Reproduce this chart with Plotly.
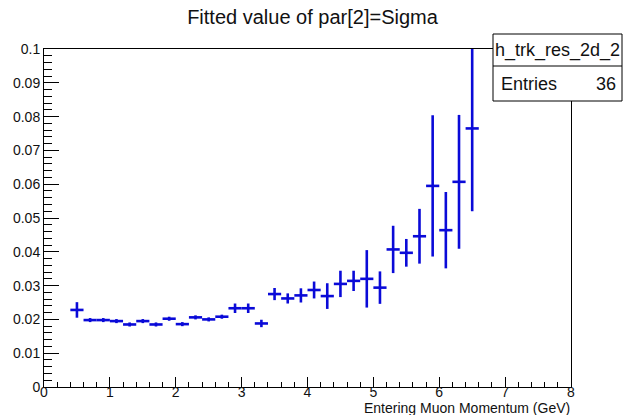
import plotly.graph_objects as go

# Fitted Gaussian sigma per momentum bin
momentum_gev = [0.5, 0.7, 0.9, 1.1, 1.3, 1.5, 1.7, 1.9, 2.1, 2.3, 2.5, 2.7, 2.9, 3.1,
                3.3, 3.5, 3.7, 3.9, 4.1, 4.3, 4.5, 4.7, 4.9, 5.1, 5.3, 5.5, 5.7, 5.9,
                6.1, 6.3, 6.5]
sigma = [0.0228, 0.0198, 0.0198, 0.0195, 0.0185, 0.0195, 0.0185, 0.0202, 0.0186,
         0.0206, 0.0200, 0.0208, 0.0233, 0.0233, 0.0188, 0.0275, 0.0262, 0.0271,
         0.0287, 0.0269, 0.0305, 0.0314, 0.0320, 0.0294, 0.0407, 0.0397, 0.0446,
         0.0595, 0.0464, 0.0607, 0.0765]
sigma_err = [0.0023, 0.0006, 0.0006, 0.0006, 0.0006, 0.0006, 0.0006, 0.0006, 0.0006,
             0.0006, 0.0006, 0.0006, 0.0014, 0.0014, 0.0011, 0.0018, 0.0015, 0.0021,
             0.0025, 0.0038, 0.0039, 0.0030, 0.0085, 0.0048, 0.0070, 0.0041, 0.0081,
             0.0209, 0.0113, 0.0198, 0.0245]
bin_half_width = 0.1

title_text = "Fitted value of par[2]=Sigma"
x_title = "Entering Muon Momentum (GeV)"
hist_name = "h_trk_res_2d_2"
entries = 36

W, H = 625, 415
ML, MR, MT, MB = 44, 54, 49, 28
PW, PH = W - ML - MR, H - MT - MB
FONT = "Liberation Sans, Arial, Helvetica, sans-serif"
BLUE = "#0a0ad8"


def px(x):
    return (x - ML) / PW


def py(y):
    return (H - MB - y) / PH


fig = go.Figure()
fig.add_trace(go.Scatter(
    x=momentum_gev, y=sigma, mode="markers",
    marker=dict(size=0.1, color=BLUE),
    error_x=dict(type="constant", value=bin_half_width, color=BLUE, thickness=2.6, width=0),
    error_y=dict(type="data", array=sigma_err, color=BLUE, thickness=2.6, width=0),
    showlegend=False, hoverinfo="skip",
))

axis_common = dict(showgrid=False, zeroline=False, showline=True, linecolor="black",
                   linewidth=1, mirror=True, ticks="inside", tickcolor="black",
                   tickwidth=1, automargin=False,
                   tickfont=dict(family=FONT, size=14, color="#111"))

fig.update_xaxes(range=[0, 8], dtick=1, ticklen=10, ticklabelstandoff=-8,
                 minor=dict(ticks="inside", dtick=0.2, ticklen=5, tickcolor="black"),
                 **axis_common)
fig.update_yaxes(range=[0, 0.1], dtick=0.01, ticklen=15,
                 minor=dict(ticks="inside", dtick=0.002, ticklen=8, tickcolor="black"),
                 **axis_common)

# Statistics box
box_l, box_r, box_t, box_mid, box_b = 493, 622, 34, 66, 101
fig.add_shape(type="rect", xref="paper", yref="paper",
              x0=px(box_l), x1=px(box_r), y0=py(box_b), y1=py(box_t),
              fillcolor="white", line=dict(color="black", width=1), layer="above")
fig.add_shape(type="line", xref="paper", yref="paper",
              x0=px(box_l), x1=px(box_r), y0=py(box_mid), y1=py(box_mid),
              line=dict(color="black", width=1), layer="above")

annos = [
    dict(text=hist_name, x=px((box_l + box_r) / 2), y=py((box_t + box_mid) / 2),
         xanchor="center", yanchor="middle", font=dict(size=18)),
    dict(text="Entries", x=px(500), y=py((box_mid + box_b) / 2),
         xanchor="left", yanchor="middle", font=dict(size=18)),
    dict(text=str(entries), x=px(617), y=py((box_mid + box_b) / 2),
         xanchor="right", yanchor="middle", font=dict(size=18)),
    dict(text=x_title, x=px(W - MR), y=py(417),
         xanchor="right", yanchor="bottom", font=dict(size=14)),
]
for a in annos:
    a["font"].update(family=FONT, color="#111")
    fig.add_annotation(xref="paper", yref="paper", showarrow=False, borderpad=0, **a)

fig.update_layout(
    width=W, height=H,
    margin=dict(l=ML, r=MR, t=MT, b=MB),
    paper_bgcolor="white", plot_bgcolor="white",
    title=dict(text=title_text, x=0.5, xref="container", xanchor="center",
               y=1 - 17 / H, yref="container", yanchor="middle",
               font=dict(family=FONT, size=20, color="#111")),
)

fig.write_html("out.html")
